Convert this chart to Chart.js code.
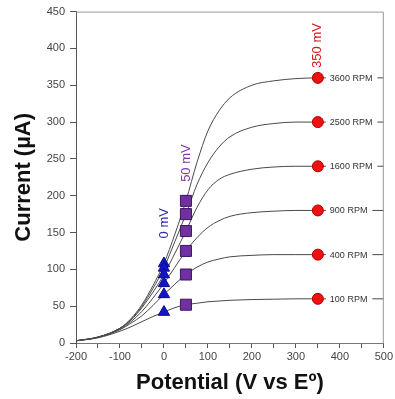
<!DOCTYPE html>
<html>
<head>
<meta charset="utf-8">
<script src="https://cdn.jsdelivr.net/npm/chart.js@4/dist/chart.umd.min.js"></script>
<style>
  html, body { margin: 0; padding: 0; background: #fff; }
  #wrap { width: 395px; height: 399px; }
</style>
</head>
<body>
<div id="wrap"><canvas id="myChart" width="395" height="399"></canvas></div>
<script>
var potentials = [-200, -150, -100, -75, -50, -25, 0, 25, 50, 75, 100, 125, 150, 200, 250, 300, 350, 400, 450, 500];

var curve3600 = [3, 8, 20, 33, 52, 78, 108, 148, 193, 245, 288, 315, 333, 350, 356, 359, 360, 360, 360, 360];
var curve2500 = [3, 8, 20, 32, 50, 74, 102, 138, 175, 215, 245, 266, 280, 293, 298, 300, 300, 300, 300, 300];
var curve1600 = [3, 8, 20, 31, 48, 69, 93, 122, 152, 184, 208, 222, 229, 236, 239, 240, 240, 240, 240, 240];
var curve900  = [3, 8, 19, 29, 43, 61, 81, 103, 125, 143, 157, 166, 172, 177, 179, 180, 180, 180, 180, 180];
var curve400  = [3, 7.5, 18, 27, 37, 51, 66, 80, 93, 103, 110, 114, 117, 119, 120, 120, 120, 120, 120, 120];
var curve100  = [3, 7, 16, 22, 29, 36, 42, 48, 52, 54, 56, 57, 58, 59, 59.5, 60, 60, 60, 60, 60];

var rpmLabels = ['3600 RPM', '2500 RPM', '1600 RPM', '900 RPM', '400 RPM', '100 RPM'];

// marker potentials and currents
var triangleX = 0;
var triangleY = [108, 102, 93, 81, 66, 42];
var squareX = 50;
var squareY = [193, 175, 152, 125, 93, 52];
var circleX = 350;
var circleY = [360, 300, 240, 180, 120, 60];

var mvLabels = ['0 mV', '50 mV', '350 mV'];

var xTicks = [-200, -100, 0, 100, 200, 300, 400, 500];
var yTicks = [0, 50, 100, 150, 200, 250, 300, 350, 400, 450];

var FONT = 'Arial, "Liberation Sans", sans-serif';

function xy(xs, ys) {
  return ys.map(function (v, i) { return { x: Array.isArray(xs) ? xs[i] : xs, y: v }; });
}

var curves = [curve3600, curve2500, curve1600, curve900, curve400, curve100];
var datasets = [];

datasets.push({
  type: 'scatter', data: xy(triangleX, triangleY), pointStyle: 'triangle', pointRadius: 6.5,
  backgroundColor: '#1515c8', borderColor: '#0a0a90', borderWidth: 1, order: 0
});
datasets.push({
  type: 'scatter', data: xy(squareX, squareY), pointStyle: 'rect', pointRadius: 7.8,
  backgroundColor: '#7030a0', borderColor: '#3a1660', borderWidth: 1, order: 0
});
datasets.push({
  type: 'scatter', data: xy(circleX, circleY), pointStyle: 'circle', pointRadius: 5.5,
  backgroundColor: '#ee1111', borderColor: '#b00000', borderWidth: 1, order: 0
});
curves.forEach(function (c) {
  datasets.push({
    type: 'line', data: xy(potentials, c), borderColor: '#4a4a4a', borderWidth: 1,
    pointRadius: 0, fill: false, cubicInterpolationMode: 'monotone', order: 1
  });
});

var markerText = {
  id: 'markerText',
  afterDatasetsDraw: function (chart) {
    var ctx = chart.ctx;
    var xs = chart.scales.x, ys = chart.scales.y;
    ctx.save();
    // RPM labels beside red circles
    ctx.font = '9px ' + FONT;
    ctx.textBaseline = 'middle';
    ctx.textAlign = 'left';
    var circles = chart.getDatasetMeta(2).data;
    circles.forEach(function (pt, i) {
      var w = ctx.measureText(rpmLabels[i]).width;
      ctx.fillStyle = '#fff';
      ctx.fillRect(pt.x + 8, pt.y - 5, w + 9, 10);
      ctx.fillStyle = '#333';
      ctx.fillText(rpmLabels[i], pt.x + 12, pt.y + 0.5);
    });
    // rotated potential labels
    var specs = [
      { v: triangleX, top: Math.max.apply(null, triangleY), gap: 25, color: '#2a2ab0' },
      { v: squareX, top: Math.max.apply(null, squareY), gap: 19, color: '#7a3aa8' },
      { v: circleX, top: Math.max.apply(null, circleY), gap: 10, color: '#d01818' }
    ];
    ctx.font = '13px ' + FONT;
    ctx.textBaseline = 'middle';
    specs.forEach(function (s, i) {
      var px = xs.getPixelForValue(s.v);
      var py = ys.getPixelForValue(s.top) - s.gap;
      ctx.save();
      ctx.translate(px, py);
      ctx.rotate(-Math.PI / 2);
      ctx.fillStyle = s.color;
      ctx.textAlign = 'left';
      ctx.fillText(mvLabels[i], 0, 0);
      ctx.restore();
    });
    ctx.restore();
  },
  afterDraw: function (chart) {
    var a = chart.chartArea, ctx = chart.ctx;
    ctx.save();
    ctx.strokeStyle = '#999';
    ctx.lineWidth = 1;
    ctx.beginPath();
    ctx.moveTo(a.left, a.top + 0.5);
    ctx.lineTo(a.right - 0.5, a.top + 0.5);
    ctx.lineTo(a.right - 0.5, a.bottom);
    ctx.stroke();
    ctx.restore();
  }
};

var ctx = document.getElementById('myChart').getContext('2d');
var myChart = new Chart(ctx, {
  data: { datasets: datasets },
  options: {
    responsive: false,
    animation: false,
    layout: { padding: { top: 10, right: 10, left: 0, bottom: 0 } },
    plugins: { legend: { display: false }, tooltip: { enabled: false } },
    scales: {
      x: {
        type: 'linear', min: -200, max: 500,
        afterFit: function (s) { s.height = 56; },
        afterBuildTicks: function (s) {
          var t = [];
          for (var v = -200; v <= 500; v += 50) t.push({ value: v });
          s.ticks = t;
        },
        ticks: {
          autoSkip: false, maxRotation: 0, padding: 2,
          color: '#444', font: { family: FONT, size: 11 },
          callback: function (value) { return xTicks.indexOf(value) >= 0 ? String(value) : ''; }
        },
        grid: { drawOnChartArea: false, color: '#555', tickLength: 5 },
        border: { color: '#777' },
        title: {
          display: true, text: 'Potential (V vs E\u00ba)', color: '#111',
          font: { family: FONT, size: 22, weight: 'bold' }, padding: { top: 0, bottom: 3 }
        }
      },
      y: {
        type: 'linear', min: 0, max: 450,
        afterFit: function (s) { s.width = 76; },
        afterBuildTicks: function (s) { s.ticks = yTicks.map(function (v) { return { value: v }; }); },
        ticks: { padding: 5, color: '#444', font: { family: FONT, size: 11 } },
        grid: { drawOnChartArea: false, color: '#555', tickLength: 6 },
        border: { color: '#555' },
        title: {
          display: true, text: 'Current (\u00b5A)', color: '#111',
          font: { family: FONT, size: 22, weight: 'bold' }, padding: { top: 11, bottom: 0 }
        }
      }
    }
  },
  plugins: [markerText]
});
</script>
</body>
</html>
